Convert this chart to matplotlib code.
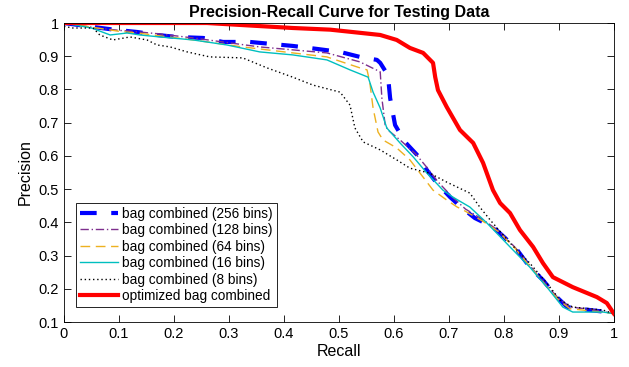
import numpy as np
import matplotlib
matplotlib.use("Agg")
import matplotlib.pyplot as plt

plt.rcParams['font.family'] = ['Liberation Sans', 'DejaVu Sans']

# bag combined (256 bins)
r256 = [0.0, 0.053, 0.096, 0.133, 0.169, 0.205, 0.253, 0.289, 0.338, 0.416, 0.46, 0.502, 0.538, 0.569,
        0.575, 0.589, 0.593, 0.602, 0.62, 0.642, 0.66, 0.678, 0.702, 0.724, 0.747, 0.78, 0.802, 0.824,
        0.847, 0.871, 0.896, 0.915, 0.956, 0.987, 1.0]
p256 = [1.0, 0.988, 0.979, 0.973, 0.964, 0.958, 0.955, 0.943, 0.943, 0.931, 0.922, 0.913, 0.898, 0.889,
        0.88, 0.843, 0.774, 0.693, 0.642, 0.603, 0.557, 0.518, 0.476, 0.443, 0.413, 0.386, 0.353, 0.317,
        0.265, 0.226, 0.175, 0.145, 0.136, 0.13, 0.124]

# bag combined (128 bins)
r128 = [0.0, 0.06, 0.1, 0.137, 0.175, 0.235, 0.356, 0.478, 0.538, 0.575, 0.578, 0.584, 0.589, 0.611,
        0.64, 0.66, 0.68, 0.705, 0.73, 0.76, 0.79, 0.82, 0.847, 0.875, 0.9, 0.92, 0.96, 1.0]
p128 = [1.0, 0.985, 0.978, 0.973, 0.967, 0.955, 0.928, 0.91, 0.883, 0.853, 0.774, 0.693, 0.678, 0.648,
        0.605, 0.565, 0.522, 0.478, 0.44, 0.41, 0.375, 0.325, 0.27, 0.215, 0.17, 0.145, 0.138, 0.125]

# bag combined (64 bins)
r64 = [0.0, 0.06, 0.1, 0.133, 0.235, 0.325, 0.416, 0.478, 0.538, 0.551, 0.556, 0.562, 0.571, 0.58,
       0.605, 0.629, 0.653, 0.671, 0.696, 0.715, 0.726, 0.76, 0.79, 0.82, 0.847, 0.875, 0.9, 0.92,
       0.96, 1.0]
p64 = [1.0, 0.985, 0.975, 0.97, 0.949, 0.928, 0.91, 0.898, 0.865, 0.859, 0.822, 0.744, 0.672, 0.648,
       0.624, 0.588, 0.536, 0.497, 0.467, 0.446, 0.437, 0.405, 0.372, 0.322, 0.268, 0.212, 0.165, 0.14,
       0.133, 0.125]

# bag combined (16 bins)
r16 = [0.0, 0.05, 0.084, 0.115, 0.138, 0.175, 0.235, 0.296, 0.356, 0.416, 0.478, 0.52, 0.553, 0.562,
       0.575, 0.587, 0.611, 0.635, 0.66, 0.689, 0.707, 0.738, 0.769, 0.811, 0.847, 0.878, 0.907, 0.925,
       0.98, 1.0]
p16 = [1.0, 0.985, 0.964, 0.97, 0.964, 0.958, 0.949, 0.934, 0.913, 0.904, 0.889, 0.859, 0.837, 0.792,
       0.744, 0.684, 0.639, 0.597, 0.548, 0.497, 0.476, 0.446, 0.398, 0.326, 0.265, 0.205, 0.145, 0.13,
       0.13, 0.125]

# bag combined (8 bins)
r8 = [0.0, 0.016, 0.053, 0.065, 0.089, 0.12, 0.151, 0.169, 0.193, 0.224, 0.265, 0.325, 0.369, 0.416,
      0.453, 0.502, 0.52, 0.529, 0.544, 0.575, 0.605, 0.629, 0.665, 0.696, 0.738, 0.756, 0.775, 0.811,
      0.847, 0.878, 0.902, 0.925, 0.98, 1.0]
p8 = [0.99, 0.985, 0.985, 0.964, 0.949, 0.958, 0.949, 0.934, 0.928, 0.913, 0.898, 0.895, 0.865, 0.837,
      0.813, 0.792, 0.753, 0.684, 0.642, 0.618, 0.588, 0.563, 0.548, 0.521, 0.488, 0.446, 0.407, 0.338,
      0.277, 0.217, 0.166, 0.145, 0.136, 0.125]

# optimized bag combined
ropt = [0.0, 0.26, 0.416, 0.484, 0.575, 0.605, 0.629, 0.653, 0.671, 0.675, 0.68, 0.696, 0.72, 0.744,
        0.762, 0.78, 0.793, 0.811, 0.829, 0.853, 0.871, 0.889, 0.925, 0.969, 0.987, 1.0]
popt = [1.0, 1.0, 0.985, 0.98, 0.964, 0.949, 0.925, 0.91, 0.88, 0.837, 0.798, 0.747, 0.678, 0.639,
        0.579, 0.497, 0.458, 0.428, 0.377, 0.326, 0.277, 0.235, 0.205, 0.175, 0.157, 0.125]

fig = plt.figure(figsize=(6.29, 3.67), dpi=100)
ax = fig.add_axes([0.1017, 0.1226, 0.8744, 0.8147])

ax.plot(r256, p256, color='#0000ff', lw=3, dashes=(4, 3.5), label='bag combined (256 bins)')
ax.plot(r128, p128, color='#7e2f8e', lw=1, dashes=(6, 2, 1, 2), label='bag combined (128 bins)')
ax.plot(r64, p64, color='#edb120', lw=1, dashes=(7, 4), label='bag combined (64 bins)')
ax.plot(r16, p16, color='#00bfbf', lw=1, label='bag combined (16 bins)')
ax.plot(r8, p8, color='k', lw=1, dashes=(1, 2), label='bag combined (8 bins)')
ax.plot(ropt, popt, color='#ff0000', lw=3, label='optimized bag combined')

ax.set_xlim(0, 1)
ax.set_ylim(0.1, 1)
ax.set_xticks(np.arange(0, 1.01, 0.1))
ax.set_yticks(np.arange(0.1, 1.01, 0.1))
ax.set_xticklabels(['0', '0.1', '0.2', '0.3', '0.4', '0.5', '0.6', '0.7', '0.8', '0.9', '1'])
ax.set_yticklabels(['0.1', '0.2', '0.3', '0.4', '0.5', '0.6', '0.7', '0.8', '0.9', '1'])
ax.tick_params(direction='in', top=True, right=True, labelsize=10.5, length=5, width=0.6)
for s in ax.spines.values():
    s.set_linewidth(0.6)

ax.set_xlabel('Recall', fontsize=11.5, labelpad=2)
ax.set_ylabel('Precision', fontsize=11.5, labelpad=4)
ax.set_title('Precision-Recall Curve for Testing Data', fontsize=11.5, fontweight='bold', pad=4)

leg = ax.legend(loc='lower left', bbox_to_anchor=(0.022, 0.05), fontsize=9.8, handlelength=2.8,
                handletextpad=0.3, labelspacing=0.18, borderpad=0.3, fancybox=False,
                framealpha=1, edgecolor='k', borderaxespad=0)
leg.get_frame().set_linewidth(0.6)

fig.savefig('out.png', dpi=100)
